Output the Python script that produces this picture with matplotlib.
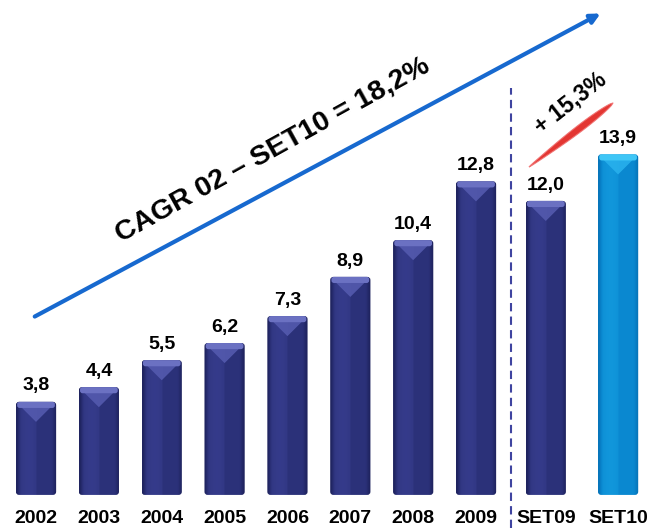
import numpy as np
import matplotlib.pyplot as plt
from matplotlib.patches import FancyBboxPatch, Polygon
from matplotlib.colors import LinearSegmentedColormap

plt.rcParams['font.family'] = ['Liberation Sans', 'DejaVu Sans']

labels = ['2002', '2003', '2004', '2005', '2006', '2007', '2008', '2009', 'SET09', 'SET10']
values = [3.8, 4.4, 5.5, 6.2, 7.3, 8.9, 10.4, 12.8, 12.0, 13.9]
highlight = [False] * 9 + [True]

cagr_text = 'CAGR 02 \u2013 SET10 = 18,2%'
growth_text = '+ 15,3%'

# extra spacing pushes the two SET bars apart from the yearly ones
gap = np.array([0] * 8 + [0.11, 0.26])
x = np.arange(len(labels)) + gap
bar_w = 0.64

navy = LinearSegmentedColormap.from_list('navy', ['#1c2058', '#2b3179', '#363c8c'])
light = LinearSegmentedColormap.from_list('light', ['#0670b4', '#0a88d0', '#1298dc'])

# horizontal shading profile: dark edges, lighter left half
t = np.linspace(0, 1, 80)
profile = np.where(t < 0.5, 0.55 + 0.4 * np.sin(np.pi * t * 1.6), 0.5)
profile = profile * np.clip(np.minimum(t, 1 - t) / 0.12, 0.2, 1)

fig = plt.figure(figsize=(6.59, 5.28), dpi=100)
ax = fig.add_axes([0, 0, 1, 1])
ax.set_axis_off()

xlim = (-0.573, 9.911)
ylim = (-1.35, 20.2)
# px per data unit, used to keep the rounding circular
asp = (659 / (xlim[1] - xlim[0])) / (528 / (ylim[1] - ylim[0]))

for xi, v, hl, lab in zip(x, values, highlight, labels):
    x0 = xi - bar_w / 2
    cmap = light if hl else navy
    cap = '#3fc6f6' if hl else '#6b71c2'
    cap_tip = '#28b0ec' if hl else '#545aae'
    box = FancyBboxPatch((x0, 0), bar_w, v,
                         boxstyle='round,pad=0,rounding_size=0.05',
                         mutation_aspect=asp, fc='none', ec='none', zorder=1)
    ax.add_patch(box)
    im = ax.imshow(profile[None, :], cmap=cmap, vmin=0, vmax=1, aspect='auto',
                   extent=(x0, x0 + bar_w, 0, v), interpolation='bilinear', zorder=1.5)
    im.set_clip_path(box)
    # lighter top cap with the inverted triangle
    tri = Polygon([(x0 + 0.02, v - 0.05), (x0 + bar_w - 0.02, v - 0.05), (xi, v - 0.82)],
                  closed=True, fc=cap_tip, ec='none', alpha=0.9, zorder=2)
    ax.add_patch(tri)
    band = FancyBboxPatch((x0 + 0.02, v - 0.25), bar_w - 0.04, 0.25,
                          boxstyle='round,pad=0,rounding_size=0.04',
                          mutation_aspect=asp, fc=cap, ec='none', zorder=2)
    ax.add_patch(band)
    ax.text(xi, v + 0.3, f'{v:.1f}'.replace('.', ','), ha='center', va='bottom',
            fontsize=14, fontweight='bold', color='black')
    ax.text(xi, -0.98, lab, ha='center', va='center',
            fontsize=14, fontweight='bold', color='black')

ax.axvline((x[7] + x[8]) / 2, ymin=0, ymax=0.833, color='#3f44a0',
           lw=1.5, ls=(0, (4, 2.5)))

# growth arrow and labels
ax.annotate('', xy=(0.915, 0.977), xytext=(0.049, 0.398), xycoords='axes fraction',
            arrowprops=dict(arrowstyle='-|>', color='#1769cf', lw=3, mutation_scale=14))
ax.text(0.413, 0.717, cagr_text, transform=ax.transAxes, rotation=29,
        rotation_mode='anchor', ha='center', va='center',
        fontsize=20.5, fontweight='bold')
ax.text(0.866, 0.805, growth_text, transform=ax.transAxes, rotation=38,
        rotation_mode='anchor', ha='center', va='center',
        fontsize=16.5, fontweight='bold')

# red brush stroke
p0 = np.array([529, 528 - 167])
p1 = np.array([613, 528 - 103])
d = (p1 - p0) / np.linalg.norm(p1 - p0)
nrm = np.array([-d[1], d[0]])
s = np.linspace(0, 1, 40)
hw = 4.5 * np.sin(np.pi * s) ** 0.6 * (0.4 + 0.6 * s)
pts = p0 + np.outer(s, p1 - p0)
poly = np.vstack([pts + np.outer(hw, nrm), (pts - np.outer(hw, nrm))[::-1]])
poly = poly / np.array([659, 528])
ax.add_patch(Polygon(poly, closed=True, transform=ax.transAxes,
                     fc='#e0201c', ec='#f07070', lw=0.8, alpha=0.9))

ax.set_xlim(*xlim)
ax.set_ylim(*ylim)

fig.savefig('out.png', dpi=100)
